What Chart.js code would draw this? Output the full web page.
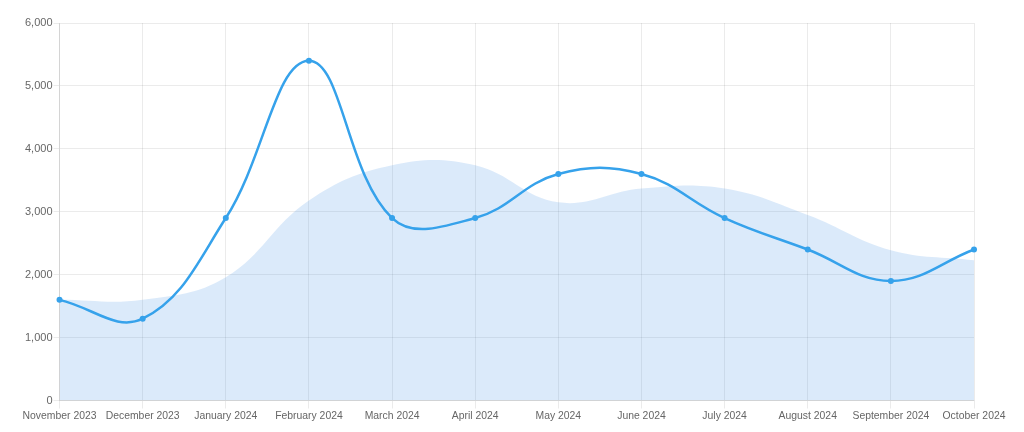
<!DOCTYPE html>
<html>
<head>
<meta charset="utf-8">
<script src="https://cdn.jsdelivr.net/npm/chart.js@4.4.1/dist/chart.umd.min.js"></script>
<style>
    html, body { margin: 0; padding: 0; background: #fff; }
    #wrap { width: 1024px; height: 432px; }
</style>
</head>
<body>
<div id="wrap"><canvas id="chart"></canvas></div>
<script>
var months = ['November 2023', 'December 2023', 'January 2024', 'February 2024', 'March 2024', 'April 2024',
    'May 2024', 'June 2024', 'July 2024', 'August 2024', 'September 2024', 'October 2024'];
var lineValues = [1600, 1300, 2900, 5400, 2900, 2900, 3600, 3600, 2900, 2400, 1900, 2400];
var areaValues = [1600, 1600, 1960, 3180, 3740, 3740, 3150, 3370, 3370, 2950, 2390, 2230];
var yMax = 6000;
var yStep = 1000;

var blue = 'rgb(54, 162, 235)';

Chart.defaults.font.family = '"Liberation Sans", Arial, sans-serif';
Chart.defaults.font.size = 11;
Chart.defaults.color = '#666';

new Chart(document.getElementById('chart'), {
    type: 'line',
    data: {
        labels: months,
        datasets: [{
            label: 'Line',
            data: lineValues,
            borderColor: blue,
            backgroundColor: blue,
            borderWidth: 2.5,
            pointRadius: 3,
            pointBorderWidth: 0,
            tension: 0.4,
            fill: false,
            order: 1
        }, {
            label: 'Area',
            data: areaValues,
            borderWidth: 0,
            borderColor: 'rgba(0,0,0,0)',
            backgroundColor: 'rgba(54, 140, 230, 0.18)',
            pointRadius: 0,
            tension: 0.4,
            fill: 'origin',
            order: 2
        }]
    },
    options: {
        responsive: true,
        maintainAspectRatio: false,
        animation: false,
        layout: {
            padding: { left: 24, right: 50, top: 23, bottom: 9 }
        },
        plugins: {
            legend: { display: false },
            tooltip: { enabled: false }
        },
        scales: {
            x: {
                grid: { color: 'rgba(0,0,0,0.08)' },
                ticks: { maxRotation: 0, autoSkip: false, padding: 1, font: { size: 10.4 } }
            },
            y: {
                min: 0,
                max: yMax,
                grid: { color: 'rgba(0,0,0,0.08)', tickLength: 6 },
                ticks: { stepSize: yStep, padding: 1 }
            }
        }
    }
});
</script>
</body>
</html>
